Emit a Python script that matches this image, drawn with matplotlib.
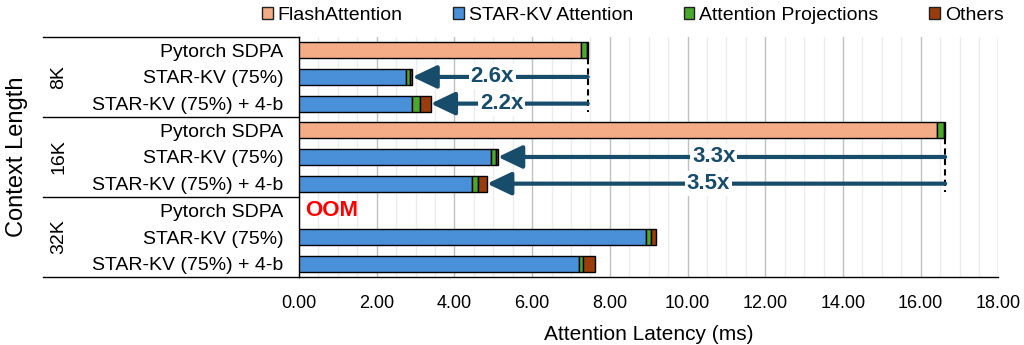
import matplotlib
matplotlib.use("Agg")
import matplotlib.pyplot as plt
from matplotlib.patches import Patch
from matplotlib.ticker import MultipleLocator
import numpy as np

plt.rcParams["font.family"] = ["Liberation Sans", "DejaVu Sans"]

# ---- data (ms) ----
groups = ["8K", "16K", "32K"]
methods = ["Pytorch SDPA", "STAR-KV (75%)", "STAR-KV (75%) + 4-b"]
flash = [7.25, 0, 0, 16.43, 0, 0, 0, 0, 0]
starkv = [0, 2.75, 2.92, 0, 4.95, 4.44, 0, 8.93, 7.20]
proj = [0.15, 0.10, 0.19, 0.17, 0.11, 0.17, 0, 0.13, 0.11]
others = [0.03, 0.07, 0.28, 0.03, 0.06, 0.23, 0, 0.13, 0.30]
speedups = {1: "2.6x", 2: "2.2x", 4: "3.3x", 5: "3.5x"}
oom_rows = [6]

components = [("FlashAttention", flash, "#f4ac86"),
              ("STAR-KV Attention", starkv, "#4a90d9"),
              ("Attention Projections", proj, "#4aa82c"),
              ("Others", others, "#993d0c")]
ARROW = "#184c6b"

n = len(flash)
y = np.arange(n)
totals = np.sum([c[1] for c in components], axis=0)

fig = plt.figure(figsize=(10.24, 3.45), dpi=100)
ax = fig.add_axes([0.292, 0.197, 0.683, 0.696])

left = np.zeros(n)
for name, vals, col in components:
    vals = np.asarray(vals, float)
    m = vals > 0
    ax.barh(y[m], vals[m], left=left[m], height=0.6, color=col,
            edgecolor="black", linewidth=1.0, zorder=3)
    left += vals

ax.set_xlim(0, 18)
ax.set_ylim(n - 0.5, -0.5)
ax.xaxis.set_major_locator(MultipleLocator(2))
ax.xaxis.set_minor_locator(MultipleLocator(0.5))
ax.xaxis.set_major_formatter(lambda v, p: f"{v:.2f}")
ax.grid(axis="x", which="minor", color="#ececec", lw=1.0, zorder=0)
ax.grid(axis="x", which="major", color="#c0c0c0", lw=1.0, zorder=0)
ax.tick_params(axis="x", which="both", length=0, labelsize=13, pad=13)
ax.set_yticks(y)
ax.set_yticklabels(methods * len(groups), fontsize=14)
ax.tick_params(axis="y", length=0, pad=11)
ax.set_xlabel("Attention Latency (ms)", fontsize=15, labelpad=9)
for s in ["top", "right"]:
    ax.spines[s].set_visible(False)
ax.spines["left"].set_linewidth(1.0)
ax.spines["bottom"].set_linewidth(1.0)

# table lines and group labels on the left
yt = ax.get_yaxis_transform()
for b in np.arange(0, n + 1, 3) - 0.5:
    ax.plot([-0.366, 0], [b, b], transform=yt, color="black", lw=1.0, clip_on=False)
for gi, g in enumerate(groups):
    ax.text(-0.343, gi * 3 + 1, g, transform=yt, rotation=90, ha="center",
            va="center", fontsize=14)
ax.text(-0.403, (n - 1) / 2, "Context Length", transform=yt, rotation=90,
        ha="center", va="center", fontsize=17)

# speedup arrows from the SDPA bar of each group
for r, lab in speedups.items():
    base = totals[(r // 3) * 3]
    ax.annotate("", xy=(totals[r], r), xytext=(base, r),
                arrowprops=dict(arrowstyle="-|>,head_length=1.05,head_width=0.5",
                                mutation_scale=14, lw=3, color=ARROW,
                                shrinkA=0, shrinkB=0), zorder=5)
    ax.text((totals[r] + base) / 2 - 0.2, r, lab, ha="center", va="center",
            fontsize=16, fontweight="bold", color=ARROW, zorder=6,
            bbox=dict(facecolor="white", edgecolor="none", pad=1.5))
for g in range(0, n, 3):
    rows = [r for r in speedups if r // 3 == g // 3]
    if rows:
        ax.plot([totals[g]] * 2, [g + 0.3, max(rows) + 0.3], color="black",
                lw=1.5, ls=(0, (3, 2)), zorder=4)

for r in oom_rows:
    ax.text(0.15, r, "OOM", ha="left", va="center", fontsize=16,
            fontweight="bold", color="#ff0000", zorder=6)

handles = [Patch(facecolor=c, edgecolor="#222222", lw=1.0, label=nm)
           for nm, _, c in components]
fig.legend(handles=handles, loc="center", bbox_to_anchor=(0.618, 0.955), ncol=4,
           frameon=False, fontsize=14, handlelength=0.55, handleheight=0.55,
           handletextpad=0.25, columnspacing=2.6, borderpad=0)

fig.savefig("out.png", dpi=100)
